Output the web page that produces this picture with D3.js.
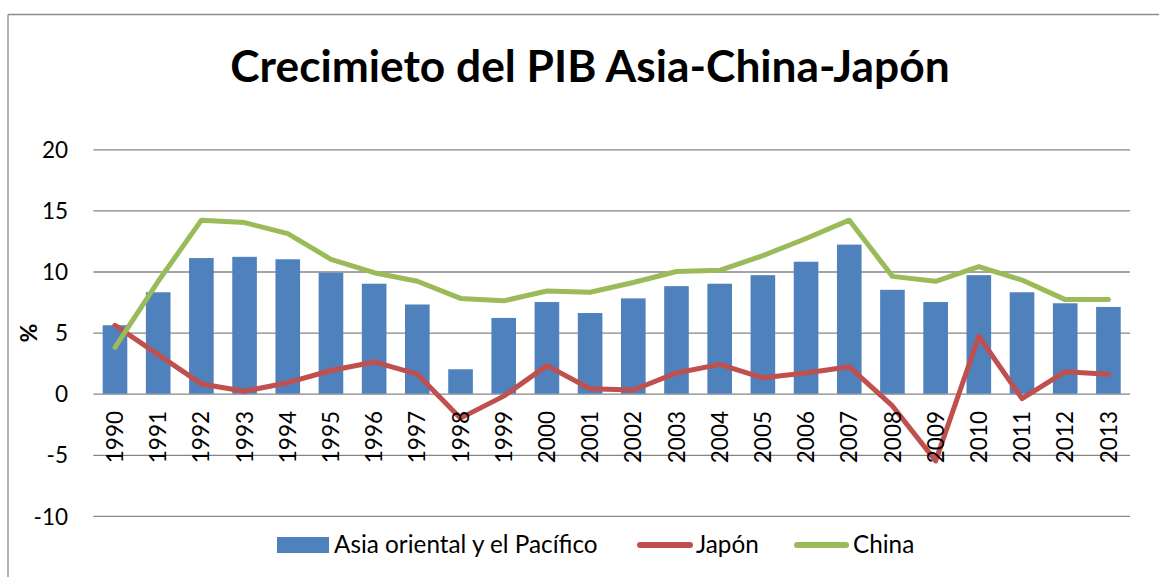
<!DOCTYPE html>
<html>
<head>
<meta charset="utf-8">
<script src="https://cdn.jsdelivr.net/npm/d3@7"></script>
<style>
  html, body { margin: 0; padding: 0; background: #fff; }
  svg { display: block; }
  text { font-family: Lato, "Open Sans", sans-serif; fill: #000; }
</style>
</head>
<body>
<svg id="chart" width="1159" height="577"></svg>
<script>
const years = ["1990","1991","1992","1993","1994","1995","1996","1997","1998","1999","2000","2001","2002","2003","2004","2005","2006","2007","2008","2009","2010","2011","2012","2013"];
const asia  = [5.6, 8.3, 11.1, 11.2, 11.0, 9.9, 9.0, 7.3, 2.0, 6.2, 7.5, 6.6, 7.8, 8.8, 9.0, 9.7, 10.8, 12.2, 8.5, 7.5, 9.7, 8.3, 7.4, 7.1];
const japan = [5.6, 3.2, 0.8, 0.2, 0.9, 1.9, 2.6, 1.6, -2.0, -0.2, 2.3, 0.4, 0.3, 1.7, 2.4, 1.3, 1.7, 2.2, -1.0, -5.5, 4.7, -0.4, 1.8, 1.6];
const china = [3.8, 9.2, 14.2, 14.0, 13.1, 11.0, 9.9, 9.2, 7.8, 7.6, 8.4, 8.3, 9.1, 10.0, 10.1, 11.3, 12.7, 14.2, 9.6, 9.2, 10.4, 9.3, 7.7, 7.7];
const yTicks = [-10, -5, 0, 5, 10, 15, 20];
const yTickLabels = ["-10", "-5", "0", "5", "10", "15", "20"];
const title = "Crecimieto del PIB Asia-China-Japón";
const yTitle = "%";
const seriesNames = ["Asia oriental y el Pacífico", "Japón", "China"];
const colors = ["#4F81BD", "#C0504D", "#9BBB59"];

(function () {
const svg = d3.select("#chart");
const pLeft = 93.4, pRight = 1130, pTop = 149.3, pBottom = 515.9;

// chart border (left and top visible)
svg.append("line").attr("x1", 8).attr("x2", 8).attr("y1", 14.5).attr("y2", 577)
  .attr("stroke", "#8c8c8c").attr("stroke-width", 1.3);
svg.append("line").attr("x1", 8).attr("x2", 1159).attr("y1", 14.5).attr("y2", 14.5)
  .attr("stroke", "#8c8c8c").attr("stroke-width", 1.3);

const x = d3.scaleBand().domain(years).range([pLeft, pRight]).padding(0);
const y = d3.scaleLinear().domain([-10, 20]).range([pBottom, pTop]);
const bw = x.bandwidth() * 0.57;

// gridlines + y labels via axis
const yAxis = d3.axisLeft(y).tickValues(yTicks).tickSize(-(pRight - pLeft))
  .tickFormat((d, i) => yTickLabels[i]);
const gy = svg.append("g").attr("transform", `translate(${pLeft},0)`).call(yAxis);
gy.select(".domain").remove();
gy.selectAll(".tick line").attr("stroke", "#868686").attr("stroke-width", 1.3);
gy.selectAll(".tick text").attr("font-size", 22.5).attr("font-family", "Lato, sans-serif").attr("fill", "#000")
  .attr("x", 68 - pLeft).attr("dy", "0.36em");

// bars
svg.append("g").selectAll("rect").data(asia).join("rect")
  .attr("x", (d, i) => x(years[i]) + (x.bandwidth() - bw) / 2)
  .attr("width", bw)
  .attr("y", d => y(Math.max(0, d)))
  .attr("height", d => Math.abs(y(d) - y(0)))
  .attr("fill", colors[0]);

// lines
const line = d3.line().x((d, i) => x(years[i]) + x.bandwidth() / 2).y(d => y(d));
[[japan, colors[1]], [china, colors[2]]].forEach(([data, c]) => {
  svg.append("path").datum(data).attr("d", line)
    .attr("fill", "none").attr("stroke", c).attr("stroke-width", 5)
    .attr("stroke-linejoin", "round").attr("stroke-linecap", "round");
});

// x labels (rotated)
const xAxis = d3.axisBottom(x).tickSize(0).tickPadding(0);
const gx = svg.append("g").attr("transform", `translate(0,${y(0)})`).call(xAxis);
gx.select(".domain").remove();
gx.selectAll(".tick text")
  .attr("font-size", 22.5).attr("font-family", "Lato, sans-serif").attr("fill", "#000")
  .attr("transform", "rotate(-90)")
  .attr("text-anchor", "end")
  .attr("x", -(411 - y(0))).attr("y", 0).attr("dy", "0.36em");

// title
svg.append("text").attr("x", 590).attr("y", 82).attr("text-anchor", "middle")
  .attr("font-size", 44.3).attr("font-weight", "bold").text(title);

// y title
svg.append("text").attr("transform", "translate(29,333) rotate(-90)")
  .attr("text-anchor", "middle").attr("dy", "0.36em")
  .attr("font-size", 23).attr("font-weight", "bold").text(yTitle);

// legend
const lg = svg.append("g");
lg.append("rect").attr("x", 277).attr("y", 537).attr("width", 52).attr("height", 16).attr("fill", colors[0]);
lg.append("text").attr("x", 334).attr("y", 553).attr("font-size", 24.3).text(seriesNames[0]);
lg.append("line").attr("x1", 640).attr("x2", 690).attr("y1", 545).attr("y2", 545)
  .attr("stroke", colors[1]).attr("stroke-width", 6).attr("stroke-linecap", "round");
lg.append("text").attr("x", 696).attr("y", 553).attr("font-size", 24.3).text(seriesNames[1]);
lg.append("line").attr("x1", 797).attr("x2", 846).attr("y1", 545).attr("y2", 545)
  .attr("stroke", colors[2]).attr("stroke-width", 6).attr("stroke-linecap", "round");
lg.append("text").attr("x", 853).attr("y", 553).attr("font-size", 24.3).text(seriesNames[2]);
})();
</script>
</body>
</html>
